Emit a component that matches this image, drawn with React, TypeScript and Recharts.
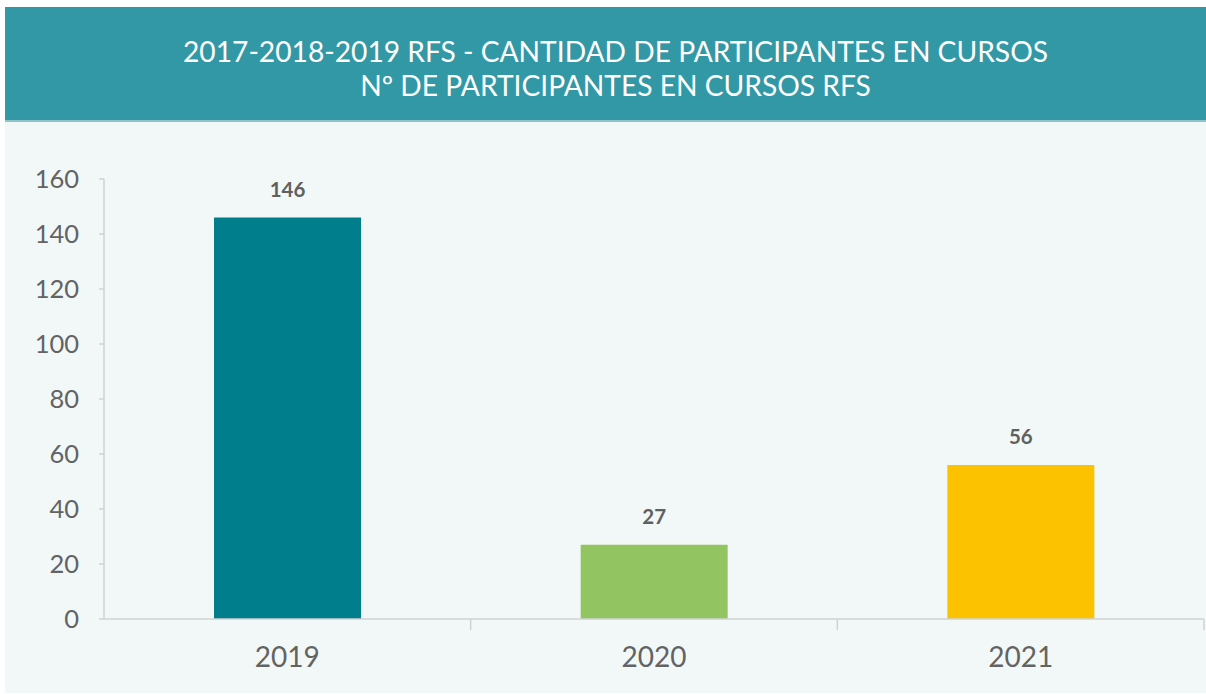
import React from 'react';
import { BarChart, Bar, XAxis, YAxis, Cell, LabelList } from 'recharts';

const years = ['2019', '2020', '2021'];
const participants = [146, 27, 56];
const barColors = ['#017e8b', '#92c462', '#fcc200'];
const yTicks = [0, 20, 40, 60, 80, 100, 120, 140, 160];
const titleLines = [
  '2017-2018-2019 RFS - CANTIDAD DE PARTICIPANTES EN CURSOS',
  'Nº DE PARTICIPANTES EN CURSOS RFS',
];

const data = years.map((year, i) => ({ year, value: participants[i] }));

const PANEL_W = 1201;
const CHART_H = 571;
const Y_AXIS_W = 99;
const MARGIN_RIGHT = 2;
const PLOT_W = PANEL_W - Y_AXIS_W - MARGIN_RIGHT;
const BAND = PLOT_W / years.length;
const FONT = 'Lato, "Open Sans", sans-serif';

// category label in the middle, small tick mark at the right edge of the band
function YearTick(props: any) {
  const { x, y, payload } = props;
  return (
    <g>
      <text x={x} y={y + 48} textAnchor="middle" fill="#636363" fontSize={28} fontFamily={FONT}>
        {payload.value}
      </text>
      <line x1={x + BAND / 2} x2={x + BAND / 2} y1={y} y2={y + 11} stroke="#cfd3d3" strokeWidth={1.5} />
    </g>
  );
}

export default function App() {
  return (
    <div style={{ position: 'absolute', left: 5, top: 7, width: PANEL_W, background: '#f2f8f8' }}>
      {/* cabecera */}
      <div
        style={{
          height: 115,
          boxSizing: 'border-box',
          background: '#3398a6',
          borderBottom: '2px solid #8fc4cb',
          color: '#ffffff',
          fontFamily: FONT,
          fontSize: 28.2,
          lineHeight: '34px',
          textAlign: 'center',
          paddingTop: 27,
          paddingLeft: 20,
        }}
      >
        {titleLines.map((line) => (
          <div key={line}>{line}</div>
        ))}
      </div>

      <BarChart
        width={PANEL_W}
        height={CHART_H}
        data={data}
        margin={{ top: 57, right: MARGIN_RIGHT, left: 0, bottom: 0 }}
        barCategoryGap="30%"
      >
        <XAxis
          dataKey="year"
          height={74}
          tickSize={0}
          tickMargin={0}
          axisLine={{ stroke: '#cfd3d3', strokeWidth: 1.5 }}
          tickLine={false}
          tick={<YearTick />}
        />
        <YAxis
          width={Y_AXIS_W}
          domain={[0, 160]}
          ticks={yTicks}
          interval={0}
          tickSize={5}
          tickMargin={20}
          axisLine={{ stroke: '#cfd3d3', strokeWidth: 1.5 }}
          tickLine={{ stroke: '#cfd3d3', strokeWidth: 1.5 }}
          tick={{ fill: '#636363', fontSize: 25.5, fontFamily: FONT }}
        />
        <Bar dataKey="value" isAnimationActive={false}>
          {data.map((entry, index) => (
            <Cell key={`cell-${entry.year}`} fill={barColors[index]} />
          ))}
          <LabelList
            dataKey="value"
            position="top"
            offset={21}
            fill="#606060"
            fontSize={20.5}
            fontWeight="bold"
            fontFamily={FONT}
          />
        </Bar>
      </BarChart>
    </div>
  );
}
